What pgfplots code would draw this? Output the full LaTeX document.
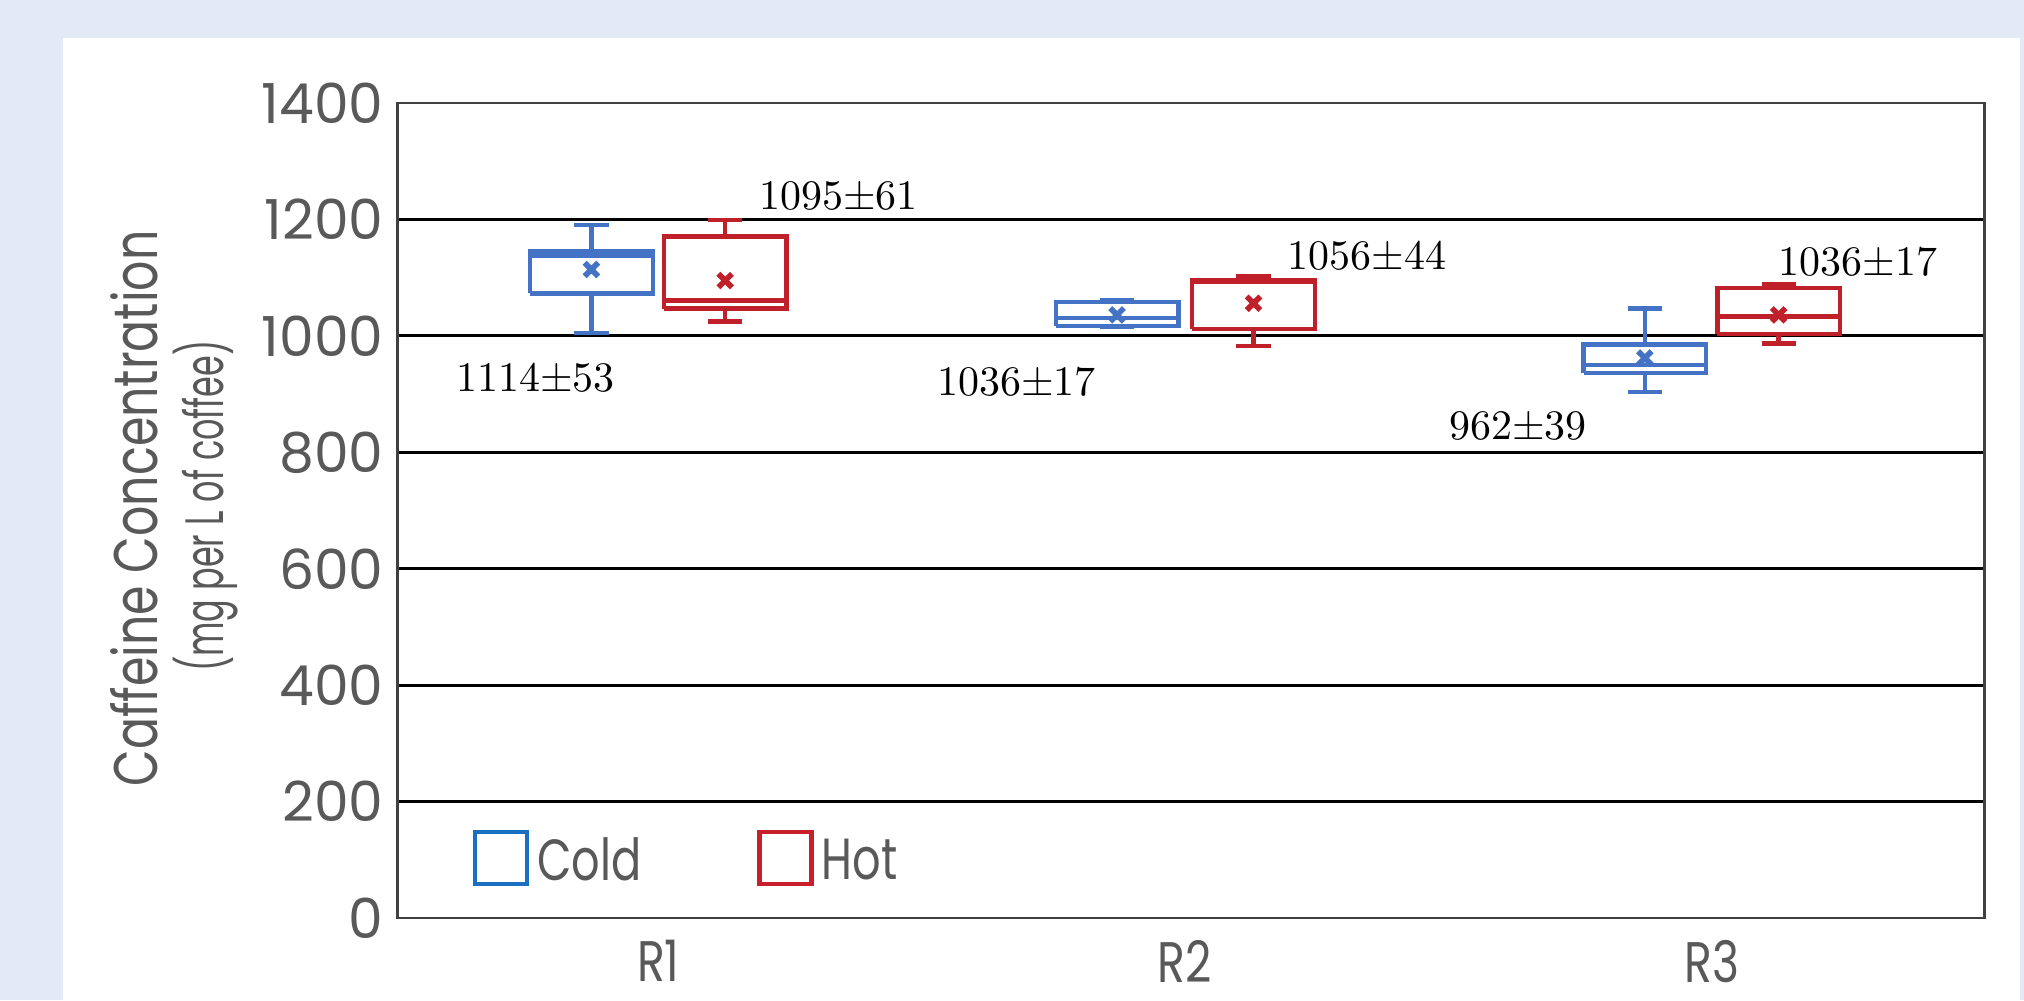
\documentclass[border=0pt]{standalone}
\usepackage{fontspec}
\usepackage{pgfplots}
\pgfplotsset{compat=1.18}
\newfontfamily\geo{Poppins}
\newfontfamily\geoc{Poppins}[FakeStretch=0.8]
\newfontfamily\geol{Poppins}[FakeStretch=0.77]
\newfontfamily\geocc{Poppins}[FakeStretch=0.62]
\definecolor{bgblue}{HTML}{E3EAF6}
\definecolor{cblue}{HTML}{4472C4}
\definecolor{cred}{HTML}{C0202A}
\definecolor{lblue}{HTML}{1A70C0}
\definecolor{lred}{HTML}{C8202A}
\definecolor{tgray}{HTML}{595959}
\begin{document}
\begin{tikzpicture}
\useasboundingbox (0pt,0pt) rectangle (506pt,250pt);
\fill[bgblue] (0pt,0pt) rectangle (506pt,250pt);
\fill[white] (15.75pt,0pt) rectangle (505pt,240.5pt);
\begin{axis}[
  at={(99.4pt,20.5pt)}, anchor=south west, scale only axis,
  width=396.75pt, height=203.75pt,
  xmin=-0.495, xmax=2.518, ymin=0, ymax=1400,
  xtick={0,1,2}, xticklabels={R1,R2,R3},
  ytick={0,200,...,1400},
  major tick length=0pt,
  ymajorgrids, grid style={black, line width=0.7pt},
  axis line style={draw=black!75, line width=0.6pt},
  /pgf/number format/assume math mode=true,
  /pgf/number format/1000 sep={},
  yticklabel style={font=\geo\fontsize{13.8}{14}\selectfont, text=tgray},
  xticklabel style={font=\geoc\fontsize{14.3}{15}\selectfont, text=tgray, yshift=-2pt},
  unbounded coords=jump,
  legend columns=2,
  legend style={at={(axis cs:-0.354,96)}, anchor=west, draw=none, fill=none,
    inner sep=0pt, font=\geol\fontsize{14.5}{16}\selectfont, text=tgray,
    /tikz/every odd column/.style={column sep=0pt},
    /tikz/every even column/.style={column sep=27pt}},
]
\addlegendimage{legend image code/.code={\draw[lblue, line width=1.1pt] (0pt,-5.5pt) rectangle (13pt,7.5pt);}}
\addlegendentry{Cold}
\addlegendimage{legend image code/.code={\draw[lred, line width=1.1pt] (0pt,-5.5pt) rectangle (13pt,7.5pt);}}
\addlegendentry{Hot}
% Cold boxes: box (Q1..Q3), median, whiskers with caps
\addplot[cblue, line width=1.1pt, forget plot] coordinates {
 (-0.2435,1073) (-0.0105,1073) (-0.0105,1145) (-0.2435,1145) (-0.2435,1073) (nan,nan)
 (-0.2435,1138) (-0.0105,1138) (nan,nan)
 (-0.127,1145) (-0.127,1190) (nan,nan) (-0.1595,1190) (-0.0945,1190) (nan,nan)
 (-0.127,1073) (-0.127,1005) (nan,nan) (-0.1595,1005) (-0.0945,1005)};
\addplot[cblue, line width=1.1pt, forget plot] coordinates {
 (0.7545,1017) (0.9875,1017) (0.9875,1058) (0.7545,1058) (0.7545,1017) (nan,nan)
 (0.7545,1031) (0.9875,1031) (nan,nan)
 (0.871,1058) (0.871,1062) (nan,nan) (0.8385,1062) (0.9035,1062) (nan,nan)
 (0.871,1017) (0.871,1015) (nan,nan) (0.8385,1015) (0.9035,1015)};
\addplot[cblue, line width=1.1pt, forget plot] coordinates {
 (1.7565,936) (1.9895,936) (1.9895,985) (1.7565,985) (1.7565,936) (nan,nan)
 (1.7565,950) (1.9895,950) (nan,nan)
 (1.873,985) (1.873,1047) (nan,nan) (1.8405,1047) (1.9055,1047) (nan,nan)
 (1.873,936) (1.873,904) (nan,nan) (1.8405,904) (1.9055,904)};
% Hot boxes
\addplot[cred, line width=1.1pt, forget plot] coordinates {
 (0.0105,1047) (0.2435,1047) (0.2435,1171) (0.0105,1171) (0.0105,1047) (nan,nan)
 (0.0105,1061) (0.2435,1061) (nan,nan)
 (0.127,1171) (0.127,1199) (nan,nan) (0.0945,1199) (0.1595,1199) (nan,nan)
 (0.127,1047) (0.127,1025) (nan,nan) (0.0945,1025) (0.1595,1025)};
\addplot[cred, line width=1.1pt, forget plot] coordinates {
 (1.0135,1012) (1.2465,1012) (1.2465,1095) (1.0135,1095) (1.0135,1012) (nan,nan)
 (1.0135,1093) (1.2465,1093) (nan,nan)
 (1.13,1095) (1.13,1103) (nan,nan) (1.0975,1103) (1.1625,1103) (nan,nan)
 (1.13,1012) (1.13,983) (nan,nan) (1.0975,983) (1.1625,983)};
\addplot[cred, line width=1.1pt, forget plot] coordinates {
 (2.0105,1003) (2.2435,1003) (2.2435,1082) (2.0105,1082) (2.0105,1003) (nan,nan)
 (2.0105,1033) (2.2435,1033) (nan,nan)
 (2.127,1082) (2.127,1089) (nan,nan) (2.0945,1089) (2.1595,1089) (nan,nan)
 (2.127,1003) (2.127,987) (nan,nan) (2.0945,987) (2.1595,987)};
% means
\addplot[only marks, mark=x, mark size=2.4pt, cblue, line width=1.4pt, forget plot]
  coordinates {(-0.127,1114) (0.871,1036) (1.873,962)};
\addplot[only marks, mark=x, mark size=2.4pt, cred, line width=1.4pt, forget plot]
  coordinates {(0.127,1095) (1.13,1056) (2.127,1036)};
% labels
\node[font=\fontsize{10.5}{12}\selectfont] at (axis cs:-0.233,928) {1114±53};
\node[font=\fontsize{10.5}{12}\selectfont] at (axis cs:0.342,1240) {1095±61};
\node[font=\fontsize{10.5}{12}\selectfont] at (axis cs:0.680,921) {1036±17};
\node[font=\fontsize{10.5}{12}\selectfont] at (axis cs:1.346,1137) {1056±44};
\node[font=\fontsize{10.5}{12}\selectfont] at (axis cs:1.632,845) {962±39};
\node[font=\fontsize{10.5}{12}\selectfont] at (axis cs:2.278,1127) {1036±17};
\end{axis}
\node[rotate=90, text=tgray, font=\geol\fontsize{15.4}{16}\selectfont] at (33.5pt,122.9pt) {Caffeine Concentration};
\node[rotate=90, text=tgray, font=\geocc\fontsize{13.5}{14}\selectfont] at (51.5pt,123.5pt) {(mg per L of coffee)};
\end{tikzpicture}
\end{document}
